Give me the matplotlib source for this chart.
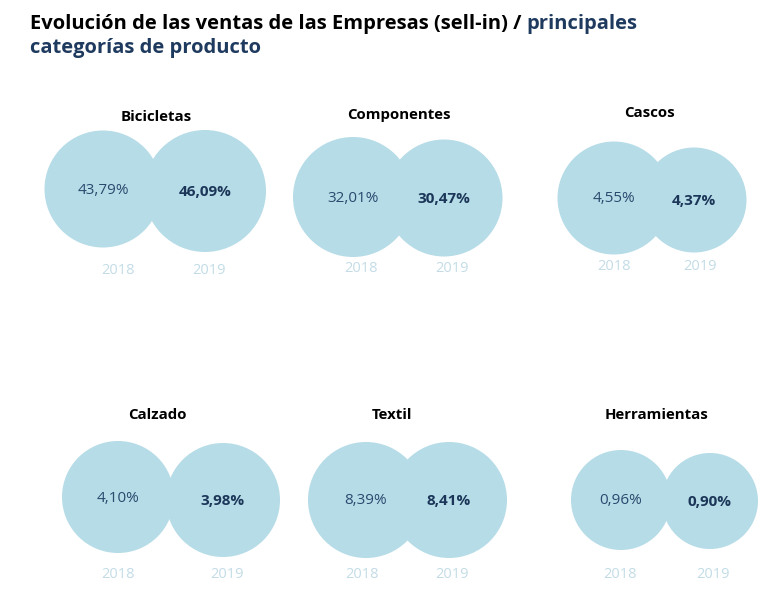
import matplotlib
matplotlib.use("Agg")
import matplotlib.pyplot as plt
from matplotlib.patches import Circle

# ---- data ----
categories = ["Bicicletas", "Componentes", "Cascos", "Calzado", "Textil", "Herramientas"]
share_2018 = [43.79, 32.01, 4.55, 4.10, 8.39, 0.96]
share_2019 = [46.09, 30.47, 4.37, 3.98, 8.41, 0.90]
years = ["2018", "2019"]
title_black = "Evolución de las ventas de las Empresas (sell-in) / "
title_blue_1 = "principales"
title_blue_2 = "categorías de producto"

# ---- layout (pixel coordinates) ----
# (cx1, cy1, r1, cx2, cy2, r2, title_x, title_y, year_y)
layout = [
    (103, 189, 58.5, 205, 191, 61, 156, 117, 271),
    (353, 197, 60, 444, 198, 58.5, 399, 115, 268),
    (614, 198, 56.5, 694, 200, 52.5, 650, 113, 267),
    (118, 497, 56, 223, 500, 57, 157, 415, 575),
    (366, 500, 58, 449, 500, 58, 392, 415, 575),
    (621, 500, 50, 710, 501, 48, 657, 415, 574),
]
year_dx = [(15, 4), (8, 8), (0, 6), (0, 4), (-4, 3), (-1, 3)]

circle_col = "#B6DCE7"
val_col = "#2A4A6E"
val_bold_col = "#1B3658"
year_col = "#C3DCE6"
blue_title = "#1F3A5F"

fig = plt.figure(figsize=(7.79, 6.0), dpi=100)
ax = fig.add_axes([0, 0, 1, 1])
ax.set_xlim(0, 779)
ax.set_ylim(600, 0)
ax.set_aspect("equal")
ax.axis("off")

fam = ["Open Sans", "DejaVu Sans"]

def fmt(v):
    return f"{v:.2f}".replace(".", ",") + "%"

for i, cat in enumerate(categories):
    cx1, cy1, r1, cx2, cy2, r2, tx, ty, yy = layout[i]
    ax.add_patch(Circle((cx1, cy1), r1, facecolor=circle_col, edgecolor="none"))
    ax.add_patch(Circle((cx2, cy2), r2, facecolor=circle_col, edgecolor="none"))
    ax.text(tx, ty, cat, ha="center", va="center", fontsize=10.8, fontweight="bold",
            color="black", family=fam)
    ax.text(cx1, cy1 + 1, fmt(share_2018[i]), ha="center", va="center", fontsize=11,
            color=val_col, family=fam)
    ax.text(cx2, cy2 + 1, fmt(share_2019[i]), ha="center", va="center", fontsize=11,
            fontweight="bold", color=val_bold_col, family=fam)
    dx1, dx2 = year_dx[i]
    ax.text(cx1 + dx1, yy, years[0], ha="center", va="center", fontsize=10.5,
            color=year_col, family=fam)
    ax.text(cx2 + dx2, yy, years[1], ha="center", va="center", fontsize=10.5,
            color=year_col, family=fam)

# title
tfam = ["Open Sans", "DejaVu Sans"]
tsize = 14.5
t1 = ax.text(30, 24, title_black, ha="left", va="center", fontsize=tsize,
             fontweight="bold", color="black", family=tfam)
fig.canvas.draw()
bb = t1.get_window_extent()
x_end = ax.transData.inverted().transform((bb.x1, bb.y0))[0]
ax.text(x_end, 24, title_blue_1, ha="left", va="center", fontsize=tsize,
        fontweight="bold", color=blue_title, family=tfam)
ax.text(30, 48, title_blue_2, ha="left", va="center", fontsize=tsize,
        fontweight="bold", color=blue_title, family=tfam)

fig.savefig("out.png", dpi=100, facecolor="white")
